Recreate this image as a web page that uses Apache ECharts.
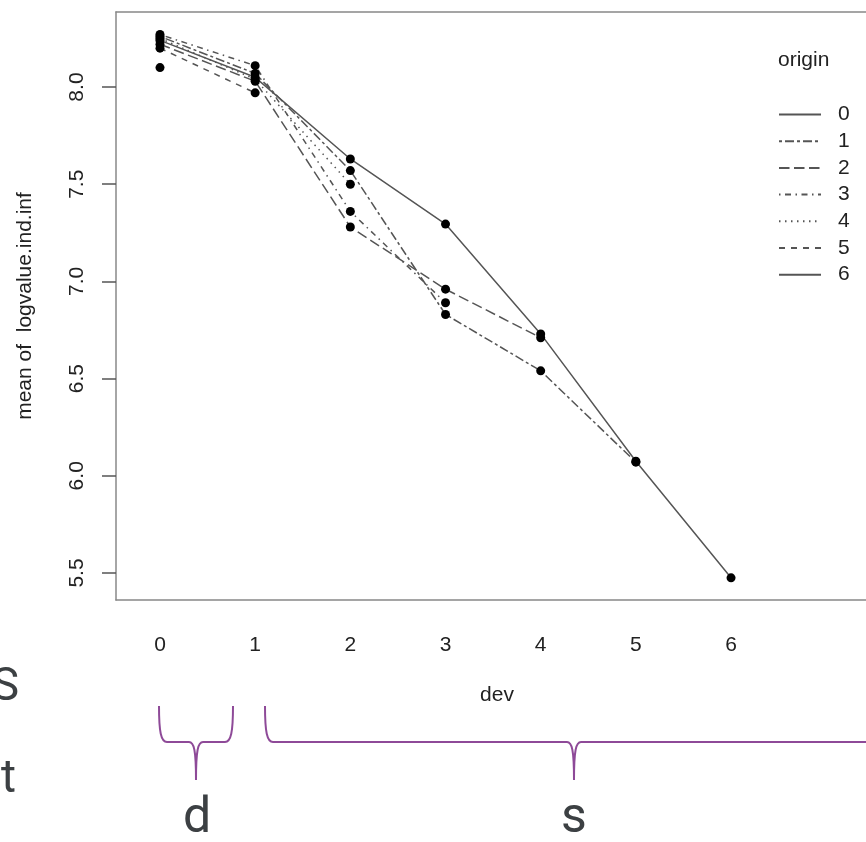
<!DOCTYPE html>
<html>
<head>
<meta charset="utf-8">
<script src="https://cdn.jsdelivr.net/npm/echarts@6/dist/echarts.min.js"></script>
<style>html,body{margin:0;padding:0;background:#fff}#c{width:866px;height:842px}</style>
</head>
<body>
<div id="c"></div>
<script>
// ---- data ----
const devLevels = [0, 1, 2, 3, 4, 5, 6];
const originNames = ['0', '1', '2', '3', '4', '5', '6'];
const origin0 = [8.24, 8.05, 7.63, 7.295, 6.73, 6.075, 5.475];
const origin1 = [8.26, 8.07, 7.57, 6.83, 6.54, 6.07];
const origin2 = [8.22, 8.03, 7.28, 6.96, 6.71];
const origin3 = [8.27, 8.11, 7.36, 6.89];
const origin4 = [8.25, 8.04, 7.50];
const origin5 = [8.20, 7.97];
const origin6 = [8.10];
const yTicks = [5.5, 6.0, 6.5, 7.0, 7.5, 8.0];
const xTicks = [0, 1, 2, 3, 4, 5, 6];

const originValues = [origin0, origin1, origin2, origin3, origin4, origin5, origin6];
const dashTypes = ['solid', [3, 3, 9, 3], [10.5, 4.5], [1.5, 4.5, 6, 4.5], [1.5, 4.5], [6, 6], 'solid'];

const FONT = '"Liberation Sans", Arial, sans-serif';
const chart = echarts.init(document.getElementById('c'), null, {renderer: 'canvas'});

const lineSeries = originValues.map((vals, i) => ({
  name: originNames[i],
  type: 'line',
  symbol: 'none',
  data: vals.map((v, j) => [devLevels[j], v]),
  lineStyle: {color: '#555', width: 1.5, type: dashTypes[i]},
  itemStyle: {color: '#555'},
  z: 2
}));
const pts = [];
originValues.forEach(vals => vals.forEach((v, j) => pts.push([devLevels[j], v])));

const purple = '#8e4a98';
const bstyle = {stroke: purple, lineWidth: 2, fill: null};
function bez(x1, y1, c1x, c1y, c2x, c2y, x2, y2) {
  return {type: 'bezierCurve', shape: {x1: x1, y1: y1, cpx1: c1x, cpy1: c1y, cpx2: c2x, cpy2: c2y, x2: x2, y2: y2}, style: bstyle};
}
function seg(x1, y1, x2, y2) {
  return {type: 'line', shape: {x1: x1, y1: y1, x2: x2, y2: y2}, style: bstyle};
}
function brace(xl, xt, xr, yTop, yMid, yTip) {
  return [
    bez(xl, yTop, xl, yMid - 10, xl + 2, yMid, xl + 8, yMid),
    seg(xl + 8, yMid, xt - 7, yMid),
    bez(xt - 7, yMid, xt - 2, yMid, xt, yMid + 8, xt, yTip),
    bez(xt, yTip, xt, yMid + 8, xt + 2, yMid, xt + 7, yMid),
    seg(xt + 7, yMid, xr - 8, yMid),
    bez(xr - 8, yMid, xr - 2, yMid, xr, yMid - 10, xr, yTop)
  ];
}
const boxLine = {show: true, onZero: false, lineStyle: {color: '#888', width: 1.5}};
const XMIN = -0.4623, XMAX = 7.418;

chart.setOption({
  animation: false,
  backgroundColor: '#fff',
  title: {
    text: 'origin', left: 778, top: 50, padding: 0,
    textStyle: {fontFamily: FONT, fontSize: 21, fontWeight: 'normal', color: '#222'}
  },
  legend: {
    orient: 'vertical', left: 778, top: 104, padding: 0,
    itemWidth: 42, itemHeight: 14, itemGap: 5.7,
    data: originNames,
    itemStyle: {opacity: 0},
    textStyle: {fontFamily: FONT, fontSize: 21, color: '#222', lineHeight: 21, padding: [0, 0, 0, 12]}
  },
  grid: {left: 116, top: 12, right: 0, bottom: 242, show: false},
  xAxis: [{
    type: 'value', min: XMIN, max: XMAX, position: 'bottom',
    name: 'dev', nameLocation: 'middle', nameGap: 85,
    nameTextStyle: {fontFamily: FONT, fontSize: 21, color: '#222', padding: [0, 0, 0, 12]},
    axisLine: boxLine, axisTick: {show: false}, splitLine: {show: false},
    axisLabel: {customValues: xTicks, margin: 35, fontFamily: FONT, fontSize: 21, color: '#222'}
  }, {
    type: 'value', min: XMIN, max: XMAX, position: 'top',
    axisLine: boxLine, axisTick: {show: false}, axisLabel: {show: false}, splitLine: {show: false}
  }],
  yAxis: {
    type: 'value', min: 5.361, max: 8.386,
    name: 'mean of  logvalue.ind.inf', nameLocation: 'middle', nameGap: 80, nameRotate: 90,
    nameTextStyle: {fontFamily: FONT, fontSize: 21, color: '#222'},
    axisLine: boxLine, splitLine: {show: false},
    axisTick: {show: true, customValues: yTicks, length: 14, lineStyle: {color: '#555', width: 1.5}},
    axisLabel: {customValues: yTicks, rotate: 90, margin: 28, fontFamily: FONT, fontSize: 21, color: '#222',
      formatter: v => v.toFixed(1)}
  },
  series: lineSeries.concat([{
    name: 'points', type: 'scatter', data: pts, symbol: 'circle', symbolSize: 9,
    itemStyle: {color: '#000', opacity: 1}, z: 3
  }]),
  graphic: brace(159, 196, 233, 706, 742, 780).concat(
    [
      bez(265, 706, 265, 732, 267, 742, 273, 742),
      seg(273, 742, 567, 742),
      bez(567, 742, 572, 742, 574, 750, 574, 780),
      bez(574, 780, 574, 750, 576, 742, 581, 742),
      seg(581, 742, 880, 742),
      {type: 'text', x: 197, y: 844, style: {text: 'd', fontFamily: 'Roboto', fontSize: 50, fill: '#3c4043', align: 'center', verticalAlign: 'bottom'}},
      {type: 'text', x: 574, y: 844, style: {text: 's', fontFamily: 'Roboto', fontSize: 50, fill: '#3c4043', align: 'center', verticalAlign: 'bottom'}},
      {type: 'text', x: 19, y: 688, style: {text: 'S', fontFamily: 'Roboto', fontSize: 46, fill: '#3c4043', align: 'right', verticalAlign: 'middle'}},
      {type: 'text', x: 16, y: 780, style: {text: 't', fontFamily: 'Roboto', fontSize: 46, fill: '#3c4043', align: 'right', verticalAlign: 'middle'}}
    ])
});
</script>
</body>
</html>
